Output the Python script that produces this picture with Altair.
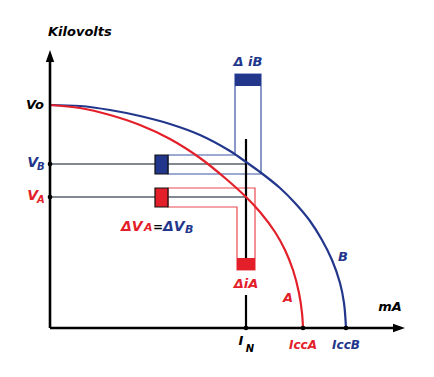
import altair as alt
import pandas as pd

# ---- values (mA on x, kV on y, arbitrary units) ----
curve_b_ma = [0, 30, 60, 90, 120, 150, 180, 196, 210, 230, 245, 260, 272, 282, 290, 294, 296]
curve_b_kv = [223, 222, 218, 212, 204, 193, 177, 166, 156, 140, 125, 107, 88, 68, 45, 25, 0]
curve_a_ma = [0, 30, 60, 90, 120, 150, 175, 196, 210, 225, 235, 243, 249, 252, 253]
curve_a_kv = [223, 220, 213, 203, 189, 170, 150, 131, 116, 96, 78, 58, 35, 15, 0]

V0 = 223
VB = 164
VA = 131
IN = 196
ICCA = 253
ICCB = 296
dV_B = [154, 173]      # voltage band around VB
dV_A = [121, 140]      # voltage band around VA
di_B = [185, 211]      # current band on curve B
di_A = [187, 205]      # current band on curve A
band_start = [105, 118]  # marker square span on the mA axis
di_B_top = [242, 254]    # ΔiB bar
di_A_bot = [58, 70]      # ΔiA bar

BLUE = "#22378c"
RED = "#e3202a"
BLUE_L = "#3b56a6"
RED_L = "#ea4a50"
GRAY = "#59616a"
FONT = "DejaVu Sans"

xs = alt.Scale(domain=[-50, 384], nice=False, zero=False)
ys = alt.Scale(domain=[-49, 328], nice=False, zero=False)


def X(f="x"):
    return alt.X(f"{f}:Q", scale=xs, axis=None)


def Y(f="y"):
    return alt.Y(f"{f}:Q", scale=ys, axis=None)


def seg(x1, y1, x2, y2, color, width):
    df = pd.DataFrame({"x": [x1], "y": [y1], "x2": [x2], "y2": [y2]})
    return alt.Chart(df).mark_rule(color=color, strokeWidth=width).encode(
        x=X(), y=Y(), x2="x2:Q", y2="y2:Q")


def path(px, py, color, width, interp="linear"):
    df = pd.DataFrame({"x": px, "y": py, "o": list(range(len(px)))})
    return alt.Chart(df).mark_line(color=color, strokeWidth=width, interpolate=interp).encode(
        x=X(), y=Y(), order="o:Q")


def rect(x1, x2, y1, y2, fill, stroke=None):
    df = pd.DataFrame({"x": [x1], "x2": [x2], "y": [y1], "y2": [y2]})
    kw = dict(fill=fill)
    if stroke:
        kw.update(stroke=stroke, strokeWidth=1.2)
    return alt.Chart(df).mark_rect(**kw).encode(x=X(), x2="x2:Q", y=Y(), y2="y2:Q")


def txt(t, x, y, color="black", size=13, dx=0, dy=0, align="left", weight="bold"):
    df = pd.DataFrame({"x": [x], "y": [y], "t": [t]})
    return alt.Chart(df).mark_text(
        font=FONT, fontSize=size, fontStyle="italic", fontWeight=weight, color=color,
        align=align, baseline="middle", dx=dx, dy=dy).encode(x=X(), y=Y(), text="t:N")


layers = []
# gray guide lines
layers.append(seg(0, VB, IN, VB, GRAY, 1.6))
layers.append(seg(0, VA, IN, VA, GRAY, 1.6))

# L-shaped outlines
layers.append(path(
    [band_start[1], di_B[0], di_B[0], di_B[1], di_B[1], band_start[1], band_start[1]],
    [dV_B[1], dV_B[1], di_B_top[1], di_B_top[1], dV_B[0], dV_B[0], dV_B[1]],
    BLUE_L, 1.2))
layers.append(path(
    [band_start[1], di_A[1], di_A[1], di_A[0], di_A[0], band_start[1], band_start[1]],
    [dV_A[1], dV_A[1], di_A_bot[0], di_A_bot[0], dV_A[0], dV_A[0], dV_A[1]],
    RED_L, 1.2))

# IN vertical line (two parts around the ΔiA label)
layers.append(seg(IN, 189, IN, di_A_bot[1], "black", 2.2))
layers.append(seg(IN, 33, IN, 0, "black", 2.2))

# curves
layers.append(path(curve_b_ma, curve_b_kv, BLUE, 2.2, "catmull-rom"))
layers.append(path(curve_a_ma, curve_a_kv, RED, 2.2, "catmull-rom"))

# squares and bars
layers.append(rect(band_start[0], band_start[1], dV_B[0], dV_B[1], BLUE, "#111"))
layers.append(rect(band_start[0], band_start[1], dV_A[0], dV_A[1], RED, "#111"))
layers.append(rect(di_B[0], di_B[1], di_B_top[0], di_B_top[1], BLUE))
layers.append(rect(di_A[0], di_A[1], di_A_bot[0], di_A_bot[1], RED))

# axes
layers.append(seg(0, 0, 0, 268, "black", 2.6))
layers.append(seg(0, 0, 345, 0, "black", 2.6))
arrows = pd.DataFrame({"x": [0], "y": [272]})
layers.append(alt.Chart(arrows).mark_point(
    shape="M0,-1L0.7,1L-0.7,1Z", filled=True, color="black", size=144, opacity=1
).encode(x=X(), y=Y()))
arrows2 = pd.DataFrame({"x": [349], "y": [0]})
layers.append(alt.Chart(arrows2).mark_point(
    shape="M1,0L-1,0.7L-1,-0.7Z", filled=True, color="black", size=144, opacity=1
).encode(x=X(), y=Y()))

# dots
dots = pd.DataFrame({"x": [0, 0, IN, ICCA, ICCB], "y": [VB, VA, 0, 0, 0]})
layers.append(alt.Chart(dots).mark_circle(color="black", size=22, opacity=1).encode(x=X(), y=Y()))

# texts
layers.append(txt("Kilovolts", 0, 296, size=13, dx=-2))
layers.append(txt("Vo", 0, V0, size=13, dx=-6, align="right"))
layers.append(txt("V", 0, VB, BLUE, size=14, dx=-12, dy=-1, align="right"))
layers.append(txt("B", 0, VB, BLUE, size=10, dx=-13, dy=3))
layers.append(txt("V", 0, VA, RED, size=14, dx=-12, dy=-1, align="right"))
layers.append(txt("A", 0, VA, RED, size=10, dx=-13, dy=3))

layers.append(txt("ΔV", 71, 101, RED, size=14))
layers.append(txt("A", 94, 101, RED, size=11, dy=1))
layers.append(txt("=", 103, 101, "black", size=12))
layers.append(txt("ΔV", 113, 101, BLUE, size=14))
layers.append(txt("B", 135, 101, BLUE, size=11, dy=3))

layers.append(txt("Δ iB", (di_B[0] + di_B[1]) / 2, di_B_top[1], BLUE, size=13, dy=-12, align="center"))
layers.append(txt("ΔiA", (di_A[0] + di_A[1]) / 2, di_A_bot[0], RED, size=13, dy=14, align="center"))
layers.append(txt("A", ICCA, 30, RED, size=13, dx=-15, align="center"))
layers.append(txt("B", ICCB, 71, BLUE, size=13, dx=-3, align="center"))
layers.append(txt("mA", 340, 21, "black", size=13, align="center"))
layers.append(txt("I", IN, 0, "black", size=13, dx=-5, dy=13, align="center"))
layers.append(txt("N", IN, 0, "black", size=10, dx=4, dy=21, align="center"))
layers.append(txt("IccA", ICCA, 0, RED, size=12, dy=17, align="center"))
layers.append(txt("IccB", ICCB, 0, BLUE, size=12, dy=17, align="center"))

chart = alt.layer(*layers).properties(
    width=434, height=377, padding=0, autosize=alt.AutoSizeParams(type="none"),
    background="white"
).configure_view(stroke=None)

chart.save("out.html", embed_options={"renderer": "svg", "actions": False})
